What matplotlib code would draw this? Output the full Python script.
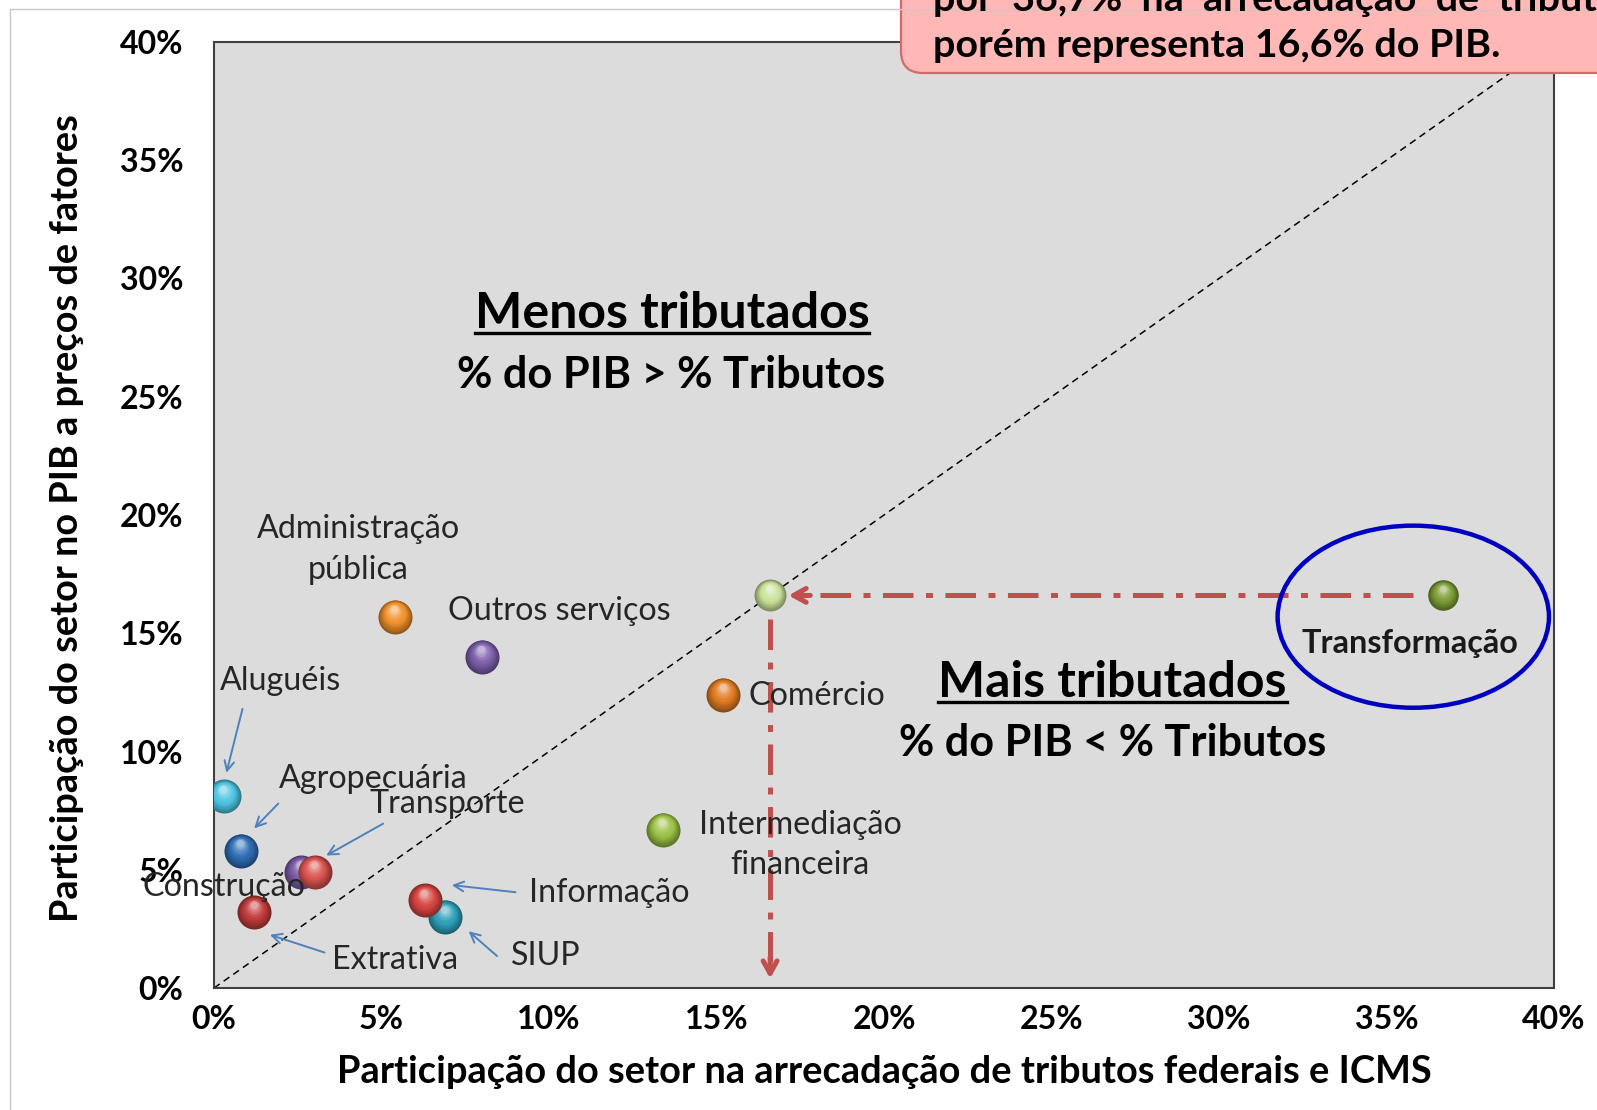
import numpy as np
import matplotlib
matplotlib.use("Agg")
import matplotlib.pyplot as plt
from matplotlib.patches import Ellipse, FancyBboxPatch
from matplotlib.lines import Line2D
from matplotlib.transforms import offset_copy, IdentityTransform
from matplotlib.colors import to_rgb
from matplotlib.ticker import FuncFormatter

plt.rcParams['font.family'] = ['Lato', 'DejaVu Sans']
plt.rcParams['lines.scale_dashes'] = False

# ---------------- data ----------------
sectors = ['Aluguéis', 'Agropecuária', 'Construção', 'Transporte', 'Extrativa',
           'SIUP', 'Informação', 'Administração\npública', 'Outros serviços',
           'Comércio', 'Intermediação\nfinanceira', 'Transformação']
tributos = [0.3, 0.8, 2.6, 3.0, 1.2, 6.9, 6.3, 5.4, 8.0, 15.2, 13.4, 36.7]   # % arrecadação
pib = [8.1, 5.8, 4.9, 4.9, 3.2, 3.0, 3.7, 15.7, 14.0, 12.4, 6.7, 16.6]        # % PIB
colors = ['#4cc3e0', '#2f6eb5', '#7b5aa6', '#d9534f', '#c23b3b', '#2ea0b8',
          '#d64541', '#f0902a', '#7d5fab', '#e07b22', '#9bc245', '#7c9c34']

# label placements (data coords, %)
label_x = [2.0, 4.75, 0.3, 6.95, 5.4, 9.9, 11.8, 4.3, 10.3, 18.0, 17.5, 35.7]
label_y = [13.0, 8.85, 4.25, 7.8, 1.2, 1.35, 4.0, 18.55, 15.95, 12.35, 6.05, 14.55]

# thin blue pointer arrows: (tail, head)
pointer_sectors = ['Aluguéis', 'Agropecuária', 'Transporte', 'Extrativa', 'Informação', 'SIUP']
pointer_tail = [(0.85, 11.8), (1.92, 7.8), (5.05, 6.95), (3.3, 1.5), (9.0, 4.05), (8.45, 1.35)]
pointer_head = [(0.37, 9.1), (1.2, 6.75), (3.35, 5.6), (1.67, 2.25), (7.1, 4.35), (7.6, 2.4)]

projection = 16.6           # Transformação's share of GDP projected on the diagonal
ticks = [0, 5, 10, 15, 20, 25, 30, 35, 40]

xlabel = 'Participação do setor na arrecadação de tributos federais e ICMS'
ylabel = 'Participação do setor no PIB a preços de fatores'
note_lines = ['por  36,7%  na  arrecadação  de  tributos,', 'porém representa 16,6% do PIB.']

# ---------------- figure ----------------
W, H = 1597, 1110
fig = plt.figure(figsize=(W / 100, H / 100), dpi=100)
fig.patch.set_facecolor('white')
renderer = fig.canvas.get_renderer()

ax = fig.add_axes([214 / W, 1 - 988 / H, (1554 - 214) / W, (988 - 42) / H])
ax.set_xlim(0, 40)
ax.set_ylim(0, 40)
ax.set_facecolor('#dcdcdc')
for sp in ax.spines.values():
    sp.set_color('#404040')
    sp.set_linewidth(1.5)


def fit(t, target, rotated=False):
    bb = t.get_window_extent(renderer)
    w = bb.height if rotated else bb.width
    t.set_fontsize(t.get_fontsize() * target / w)
    return t


# tick labels
tmp = fit(fig.text(0, 0, '40%', fontsize=20, weight='bold'), 64)
tick_fs = tmp.get_fontsize()
tmp.remove()
ax.set_xticks(ticks)
ax.set_yticks(ticks)
ax.xaxis.set_major_formatter(FuncFormatter(lambda v, p: f'{v:.0f}%'))
ax.yaxis.set_major_formatter(FuncFormatter(lambda v, p: f'{v:.0f}%'))
ax.tick_params(length=0, labelsize=tick_fs, labelcolor='black')
ax.tick_params(axis='y', pad=22)
ax.tick_params(axis='x', pad=12)
for lab in ax.get_xticklabels() + ax.get_yticklabels():
    lab.set_fontweight('bold')

# axis titles
xl = fig.text(884 / W, 1 - 1072 / H, xlabel, ha='center', va='center', weight='bold', fontsize=20)
fit(xl, 1094)
yl = fig.text(67 / W, 1 - 518 / H, ylabel, ha='center', va='center', weight='bold',
              fontsize=20, rotation=90)
fit(yl, 807, rotated=True)

# diagonal
ax.plot([0, 40], [0, 40], color='black', lw=1.1, linestyle=(0, (5, 3.5)), zorder=2)

# region texts
def underlined(x, y, s, target):
    t = ax.text(x, y, s, ha='center', va='center', weight='bold', fontsize=30, color='black', zorder=5)
    fit(t, target)
    bb = t.get_window_extent(renderer)
    fig.add_artist(Line2D([bb.x0, bb.x1], [bb.y0 + 3, bb.y0 + 3], transform=IdentityTransform(),
                          color='black', lw=2.4))
    return t

underlined(13.67, 28.5, 'Menos tributados', 395)
fit(ax.text(13.64, 25.9, '% do PIB > % Tributos', ha='center', va='center', weight='bold',
            fontsize=28, color='black', zorder=5), 428)
underlined(26.82, 12.9, 'Mais tributados', 348)
fit(ax.text(26.82, 10.35, '% do PIB < % Tributos', ha='center', va='center', weight='bold',
            fontsize=28, color='black', zorder=5), 427)

# red dash-dot projection arrows
red = '#c0504d'
tx, ty = tributos[-1], pib[-1]
dd = (0, (22, 9, 5, 9))
ax.plot([tx - 0.9, projection + 0.8], [ty, ty], color=red, lw=3.6, linestyle=dd,
        solid_capstyle='butt', dash_capstyle='butt', zorder=3)
ax.plot([projection, projection], [projection - 1.0, 0.6], color=red, lw=3.6, linestyle=dd,
        dash_capstyle='butt', zorder=3)
ax.annotate('', xy=(projection + 0.55, ty), xytext=(projection + 1.2, ty),
            arrowprops=dict(arrowstyle='->,head_length=0.9,head_width=0.5', color=red, lw=3.6,
                            shrinkA=0, shrinkB=0), zorder=3)
ax.annotate('', xy=(projection, 0.4), xytext=(projection, 1.3),
            arrowprops=dict(arrowstyle='->,head_length=0.9,head_width=0.5', color=red, lw=3.6,
                            shrinkA=0, shrinkB=0), zorder=3)

# highlight ellipse
ax.add_patch(Ellipse((35.8, 15.7), 8.1, 7.7, fill=False, edgecolor='#0000c0', lw=3.2, zorder=4))


# spheres
def sphere(x, y, color, d, z=6):
    base = np.array(to_rgb(color))
    dark = base * 0.62
    white = np.array([1, 1, 1])
    n = 14
    for i in range(n):
        t = i / (n - 1)
        di = d * (1 - 0.8 * t)
        if t < 0.45:
            col = dark + (base - dark) * (t / 0.45)
        else:
            u = (t - 0.45) / 0.55
            col = base + (white - base) * (0.55 * u ** 1.5)
        dy = (d - di) / 2 * 0.55
        dx = -(d - di) / 2 * 0.05
        tr = offset_copy(ax.transData, fig=fig, x=dx, y=dy, units='points')
        ax.scatter([x], [y], s=di ** 2, color=col, transform=tr, linewidths=0, zorder=z + i * 0.001)


for i, (x, y, c) in enumerate(zip(tributos, pib, colors)):
    sphere(x, y, c, 22 if i == len(tributos) - 1 else 24.5, z=6 + i * 0.05)
sphere(projection, projection, '#c9e09a', 23, z=7)

# sector labels
label_fs = None
for name, lx, ly in zip(sectors, label_x, label_y):
    if name == 'Transformação':
        t = ax.text(lx, ly, name, ha='center', va='center', fontsize=18, weight='bold',
                    color='#1a1a1a', zorder=8)
        fit(t, 217)
    else:
        t = ax.text(lx, ly, name, ha='center', va='center', fontsize=19, color='#262626',
                    zorder=8, linespacing=1.45)
        if label_fs is None:
            probe = fig.text(0, 0, 'Outros serviços', fontsize=19)
            fit(probe, 223)
            label_fs = probe.get_fontsize()
            probe.remove()
        t.set_fontsize(label_fs)

# pointer arrows
for (x0, y0), (x1, y1) in zip(pointer_tail, pointer_head):
    ax.annotate('', xy=(x1, y1), xytext=(x0, y0),
                arrowprops=dict(arrowstyle='->,head_length=0.7,head_width=0.35', color='#4f81bd',
                                lw=1.4, shrinkA=0, shrinkB=0), zorder=7)

# figure frame lines
fig.add_artist(Line2D([10, W + 5], [H - 9, H - 9], transform=IdentityTransform(), color='#c8c8c8', lw=1))
fig.add_artist(Line2D([10, 10], [-5, H - 9], transform=IdentityTransform(), color='#c8c8c8', lw=1))

# note box (top right, partially cut)
box = FancyBboxPatch((901, H - 73), 900, 200, boxstyle='round,pad=0,rounding_size=22',
                     transform=IdentityTransform(), facecolor='#ffb8b6', edgecolor='#d46a68', lw=1.6)
fig.add_artist(box)
l2 = fig.text(933, H - 57, note_lines[1], transform=IdentityTransform(), ha='left', va='baseline',
              weight='bold', fontsize=30, color='black')
fit(l2, 567)
fig.text(933, H - 11, note_lines[0], transform=IdentityTransform(), ha='left', va='baseline',
         weight='bold', fontsize=l2.get_fontsize(), color='black')

fig.savefig('out.png', dpi=100, facecolor='white')
